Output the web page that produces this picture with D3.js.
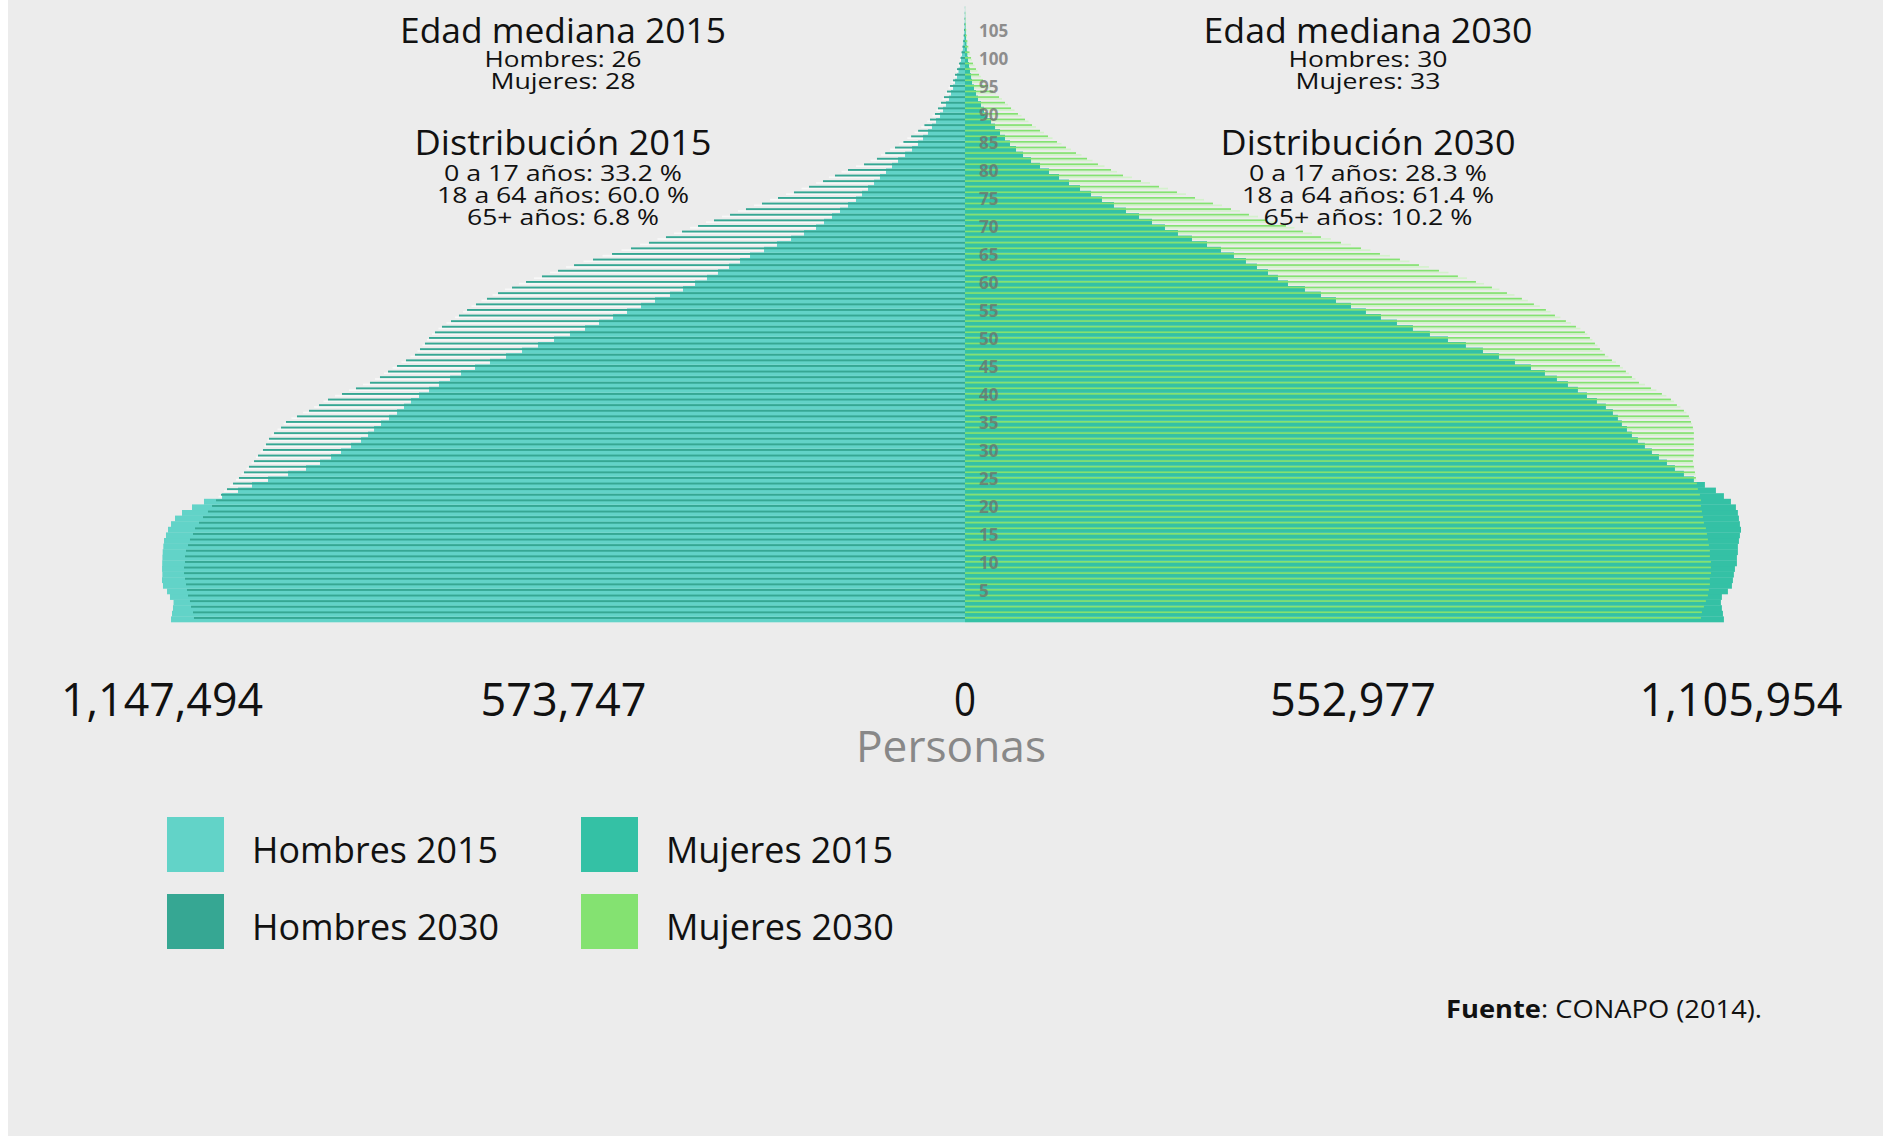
<!DOCTYPE html>
<html><head><meta charset="utf-8">
<script src="https://cdn.jsdelivr.net/npm/d3@7"></script>
<style>html,body{margin:0;padding:0;background:#ececec;} svg{display:block;}</style>
</head><body><svg id="c" width="1883" height="1136"></svg>
<script>
// ---------- DATA ----------
const ages = [0,1,2,3,4,5,6,7,8,9,10,11,12,13,14,15,16,17,18,19,20,21,22,23,24,25,26,27,28,29,30,31,32,33,34,35,36,37,38,39,40,41,42,43,44,45,46,47,48,49,50,51,52,53,54,55,56,57,58,59,60,61,62,63,64,65,66,67,68,69,70,71,72,73,74,75,76,77,78,79,80,81,82,83,84,85,86,87,88,89,90,91,92,93,94,95,96,97,98,99,100,101,102,103,104,105,106,107,108,109];

const hombres2015 = [1134600,1133200,1131800,1131000,1136100,1140300,1146100,1147494,1147000,1147400,
1147200,1146900,1146500,1145600,1144600,1141800,1138900,1134600,1128900,1118900,
1104600,1087500,1061700,1038900,1018900,996000,967400,941700,921700,906000,
891700,877400,863100,853100,844500,834500,823100,811700,801700,791700,
780200,765900,751700,735900,720200,700200,678800,655900,633000,610200,
587300,564500,543000,523000,503000,483000,463000,443000,421600,403000,
385800,368700,353000,337200,321500,307200,287200,268700,248600,230100,
212900,201500,190100,178600,167200,155800,147200,138600,130000,121500,
112900,104300,95700,85700,75700,67200,60000,52900,47200,41400,
35700,31400,27200,22900,20000,17100,14300,11400,9300,7100,
5700,4300,3100,2300,1600,1100,700,400,300,150];

const hombres2030 = [1101800,1103200,1106000,1107500,1110300,1111800,1113200,1114600,1116000,1116000,
1114600,1114600,1113200,1110300,1107500,1103200,1100300,1094600,1088900,1081800,
1076000,1070300,1063200,1054600,1046000,1037500,1030300,1023200,1016000,1010300,
1003200,998900,994600,987400,977400,970300,954600,937400,923100,910300,
890300,870300,850300,836000,824500,811700,798800,786000,778800,771700,
765900,757400,747400,734500,723100,711600,698800,683100,667300,647300,
627300,604500,581600,558700,531600,504400,477300,451600,427300,404400,
381500,358700,335800,313000,290100,267200,244400,222900,202900,185800,
167200,144300,125800,114000,100000,88000,77000,67000,58000,50000,
42900,38600,34300,30000,25700,21400,17100,14300,11400,8600,
6400,5000,3600,2600,1900,1300,900,600,300,150];

const mujeres2015 = [1081600,1080200,1078700,1077300,1078700,1087300,1093000,1094400,1095800,1097300,
1100100,1100100,1101500,1101500,1103000,1104400,1105954,1104400,1103000,1101500,
1098700,1091600,1081600,1070200,1054500,1038800,1024600,1011800,1000400,989000,
979000,969000,959000,950500,943400,936200,930500,923400,913400,900600,
886400,873500,859300,843600,826500,806600,783800,761000,738200,713900,
688300,662600,638400,615600,592800,571400,550100,528700,507300,484500,
460300,446000,431800,416100,400400,383300,364800,344900,323500,303500,
285000,266500,248000,229400,212300,195200,179600,163900,148200,134000,
119700,106900,94100,82700,72700,64100,57000,49900,42800,37100,
31400,27100,22800,18500,15700,12800,10000,8600,7100,5700,
4300,3300,2600,2000,1400,1000,700,400,300,140];

const mujeres2030 = [1048800,1050200,1053100,1055900,1058800,1060200,1061600,1061600,1063100,1063100,
1063100,1061600,1061600,1060200,1058800,1057400,1055900,1053100,1051700,1050200,
1048800,1048800,1047400,1044500,1043100,1041700,1040300,1038800,1037400,1038800,
1038800,1038800,1038800,1038800,1037400,1034600,1031700,1024600,1014600,1006100,
993200,977600,960500,950500,941900,933400,922000,912000,904900,897800,
890600,883500,870700,856400,840800,827900,810800,793700,772400,751000,
728200,702500,675500,647000,619900,591400,564300,535800,507300,481700,
457400,430400,404700,379100,353400,327800,302100,276500,250800,225200,
208100,189500,173900,158200,143900,131100,118300,106900,95500,85500,
75500,65600,57000,48500,39900,32800,25700,20000,15700,11400,
8600,6400,4700,3400,2400,1700,1100,700,400,140];

const leftTickValues = [1147494, 573747, 0];
const rightTickValues = [552977, 1105954];
const leftTickLabels = ["1,147,494", "573,747", "0"];
const rightTickLabels = ["552,977", "1,105,954"];
const ageTickLabels = [5,10,15,20,25,30,35,40,45,50,55,60,65,70,75,80,85,90,95,100,105];

const infoLeft = ["Edad mediana 2015", "Hombres: 26", "Mujeres: 28", "Distribución 2015", "0 a 17 años: 33.2 %", "18 a 64 años: 60.0 %", "65+ años: 6.8 %"];
const infoRight = ["Edad mediana 2030", "Hombres: 30", "Mujeres: 33", "Distribución 2030", "0 a 17 años: 28.3 %", "18 a 64 años: 61.4 %", "65+ años: 10.2 %"];
const legendLabels = ["Hombres 2015", "Mujeres 2015", "Hombres 2030", "Mujeres 2030"];

// ---------- STYLE ----------
const C = {h15:"#62d3c8", m15:"#34c1a5", h30:"#36a793", m30:"#84e271"};
const FONT = "'Open Sans','Noto Sans',sans-serif";
const W = 1883, H = 1136, cx = 965;

const svg = d3.select('#c');
svg.append('rect').attr('width', W).attr('height', H).attr('fill', '#ececec');
svg.append('rect').attr('width', 8).attr('height', H).attr('fill', '#ffffff');

const y = d3.scaleBand().domain(ages.slice().reverse()).range([6, 622]).padding(0);
const bw = y.bandwidth();
const xL = d3.scaleLinear().domain([0, d3.max(leftTickValues)]).range([cx, 162]);
const xR = d3.scaleLinear().domain([0, d3.max(rightTickValues)]).range([cx, 1741]);

const plot = svg.append('g');
function mid(arr, a) { return a > 0 ? (arr[a] + arr[a - 1]) / 2 : arr[a]; }

// pale companion lines of 2030 (visible only beyond the 2015 bodies)
plot.append('g').selectAll('rect').data(ages).join('rect')
  .attr('x', a => xL(mid(hombres2030, a))).attr('width', a => cx - xL(mid(hombres2030, a)))
  .attr('y', a => y(a) + 2.5).attr('height', 1.7).attr('fill', '#f8f8f8');
plot.append('g').selectAll('rect').data(ages).join('rect')
  .attr('x', cx).attr('width', a => xR(mid(mujeres2030, a)) - cx)
  .attr('y', a => y(a) + 2.5).attr('height', 1.7).attr('fill', '#d4f2cc');

// 2015 bodies
plot.append('g').selectAll('rect').data(ages).join('rect')
  .attr('x', a => xL(hombres2015[a])).attr('width', a => cx - xL(hombres2015[a]))
  .attr('y', a => y(a)).attr('height', bw + 0.3).attr('fill', C.h15);
plot.append('g').selectAll('rect').data(ages).join('rect')
  .attr('x', cx).attr('width', a => xR(mujeres2015[a]) - cx)
  .attr('y', a => y(a)).attr('height', bw + 0.3).attr('fill', C.m15);

// 2030 thin bars
plot.append('g').selectAll('rect').data(ages).join('rect')
  .attr('x', a => xL(hombres2030[a])).attr('width', a => cx - xL(hombres2030[a]))
  .attr('y', a => y(a) + 0.6).attr('height', 1.9).attr('fill', C.h30);
plot.append('g').selectAll('rect').data(ages).join('rect')
  .attr('x', cx).attr('width', a => xR(mujeres2030[a]) - cx)
  .attr('y', a => y(a) + 0.6).attr('height', 1.7).attr('fill', C.m30);

// age labels
svg.append('g').selectAll('text').data(ageTickLabels).join('text')
  .attr('x', 979).attr('y', a => y(a) + bw / 2).attr('dy', '0.36em')
  .attr('font-family', FONT).attr('font-weight', 'bold').attr('font-size', 17)
  .attr('fill', '#6e6e6e').attr('opacity', 0.75).text(a => a);

// helper for text
function txt(str, x, yy, size, opts = {}) {
  const t = svg.append('text').attr('x', x).attr('y', yy)
    .attr('font-family', FONT).attr('font-size', size)
    .attr('text-anchor', opts.anchor || 'middle')
    .attr('fill', opts.fill || '#111');
  if (opts.weight) t.attr('font-weight', opts.weight);
  if (opts.len) t.attr('textLength', opts.len).attr('lengthAdjust', 'spacingAndGlyphs');
  t.text(str);
  return t;
}

// info blocks
const infoY = [43, 67, 89, 155, 181, 203, 225];
const infoSize = [35, 22, 22, 35, 22, 22, 22];
const lenL = [326, 157, 145, 297, 238, 252, 192];
const lenR = [329, 159, 145, 295, 238, 252, 209];
infoLeft.forEach((s, i) => txt(s, 563, infoY[i], infoSize[i], {len: lenL[i], weight: 500}));
infoRight.forEach((s, i) => txt(s, 1368, infoY[i], infoSize[i], {len: lenR[i], weight: 500}));

// x tick labels
const tickLen = {"1,147,494": 202, "573,747": 166, "0": 22, "552,977": 166, "1,105,954": 203};
leftTickValues.forEach((v, i) => txt(leftTickLabels[i], xL(v), 716, 46, {len: tickLen[leftTickLabels[i]]}));
rightTickValues.forEach((v, i) => txt(rightTickLabels[i], xR(v), 716, 46, {len: tickLen[rightTickLabels[i]]}));
txt("Personas", 951, 762, 44, {fill: '#888888', len: 190});

// legend
const legX = [167, 581], legY = [817, 894];
const legColors = [C.h15, C.m15, C.h30, C.m30];
const legLen = [246, 227, 247, 228];
legendLabels.forEach((s, i) => {
  const col = i % 2, row = Math.floor(i / 2);
  svg.append('rect').attr('x', legX[col]).attr('y', legY[row]).attr('width', 57).attr('height', 55).attr('fill', legColors[i]);
  txt(s, legX[col] + 85, legY[row] + 46, 36, {anchor: 'start', len: legLen[i]});
});

// source
const src = svg.append('text').attr('x', 1446).attr('y', 1018)
  .attr('font-family', FONT).attr('font-size', 25).attr('fill', '#111')
  .attr('textLength', 316).attr('lengthAdjust', 'spacingAndGlyphs');
src.append('tspan').attr('font-weight', 'bold').text('Fuente');
src.append('tspan').text(': CONAPO (2014).');
</script></body></html>
